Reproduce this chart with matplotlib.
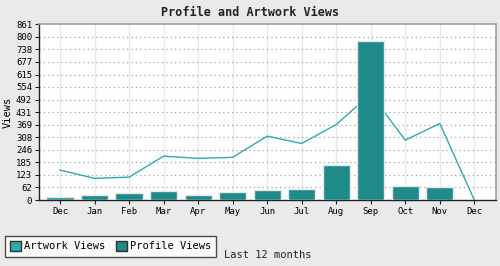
import matplotlib
matplotlib.use("Agg")
import matplotlib.pyplot as plt
from matplotlib.patches import Patch

months = ["Dec", "Jan", "Feb", "Mar", "Apr", "May", "Jun", "Jul", "Aug", "Sep", "Oct", "Nov", "Dec"]
profile_views = [16, 26, 33, 42, 26, 39, 47, 52, 170, 779, 67, 62, 0]
artwork_views = [147, 106, 112, 215, 204, 209, 313, 277, 370, 520, 293, 375, 0]
y_ticks = [0, 62, 123, 185, 246, 308, 369, 431, 492, 554, 615, 677, 738, 800, 861]

bar_color = "#1e8a8a"
line_color = "#2aacac"
font = "DejaVu Sans Mono"

fig = plt.figure(figsize=(5, 2.66), dpi=100, facecolor="#eaeaea")
ax = fig.add_axes([39 / 500, 1 - 200 / 266, (495.7 - 39) / 500, 175.7 / 266])
ax.set_facecolor("white")

x = list(range(len(months)))
ax.plot(x, artwork_views, color=line_color, lw=1.0, zorder=2)
ax.bar(x, profile_views, width=0.79, color=bar_color, edgecolor="#e6e6e6", linewidth=1.0, zorder=3)

ax.set_xlim(-0.61, 12.62)
ax.set_ylim(0, 861)
ax.set_xticks(x)
ax.set_xticklabels(months, fontfamily=font, fontsize=6.5)
ax.set_yticks(y_ticks)
ax.set_yticklabels([str(v) for v in y_ticks], fontfamily=font, fontsize=6.5)
ax.tick_params(axis="both", length=3, width=0.8, color="#222222", pad=2)

for xv in x:
    ax.axvline(xv, color="#e8e8e8", lw=1.0, zorder=1)
for yv in y_ticks[1:-1]:
    ax.axhline(yv, color="#a0a0a0", lw=0.9, ls=(0, (1, 2.5)), zorder=1)

for s in ["top", "right"]:
    ax.spines[s].set_color("#a0a0a0")
    ax.spines[s].set_linewidth(1.2)
for s in ["left", "bottom"]:
    ax.spines[s].set_color("#222222")
    ax.spines[s].set_linewidth(1.0)

ax.set_ylabel("Views", fontfamily=font, fontsize=7.5, labelpad=2)

fig.text(0.5, 1 - 12 / 266, "Profile and Artwork Views", ha="center", va="center",
         fontfamily=font, fontsize=8.5, fontweight="bold", color="#222222")

handles = [Patch(facecolor=line_color, edgecolor="#333333", linewidth=1.0),
           Patch(facecolor=bar_color, edgecolor="#333333", linewidth=1.0)]
leg = fig.legend(handles, ["Artwork Views", "Profile Views"], loc="lower left",
                 bbox_to_anchor=(5 / 500, 1 - 256.7 / 266), ncol=2, frameon=True,
                 prop={"family": font, "size": 7.5}, fancybox=False,
                 handlelength=1.0, handleheight=1.0, handletextpad=0.3, columnspacing=1.1,
                 borderpad=0.5, borderaxespad=0)
leg.get_frame().set_edgecolor("#222222")
leg.get_frame().set_linewidth(1.0)

fig.text(224 / 500, 1 - 255 / 266, "Last 12 months", ha="left", va="center",
         fontfamily=font, fontsize=7.5, color="#222222")

fig.savefig("out.png", dpi=100, facecolor=fig.get_facecolor())
